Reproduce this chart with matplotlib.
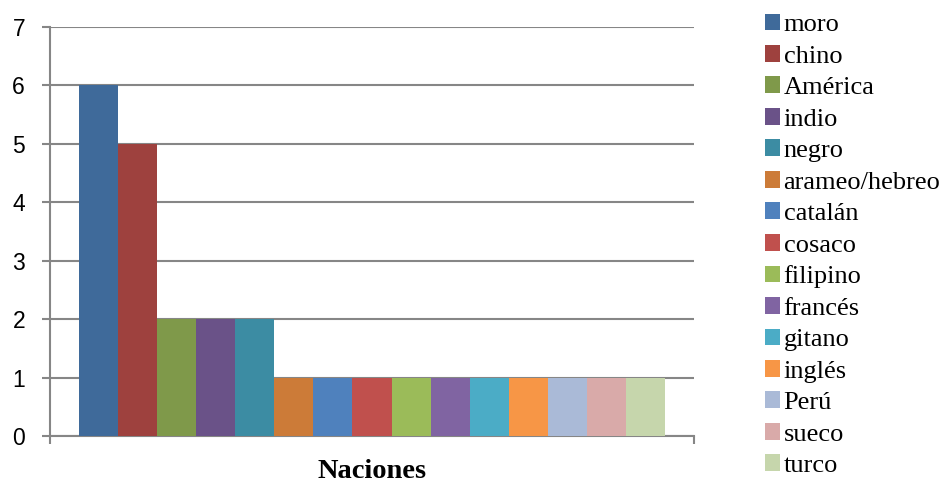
import matplotlib
matplotlib.use("Agg")
import matplotlib.pyplot as plt
import numpy as np

# datos
naciones = ['moro', 'chino', 'América', 'indio', 'negro', 'arameo/hebreo', 'catalán',
            'cosaco', 'filipino', 'francés', 'gitano', 'inglés', 'Perú', 'sueco', 'turco']
valores = [6, 5, 2, 2, 2, 1, 1, 1, 1, 1, 1, 1, 1, 1, 1]
colores = ['#3F6A9A', '#9E413E', '#7F994A', '#6A5288', '#3C8CA3', '#CC7B38', '#4F81BD',
           '#C0504D', '#9BBB59', '#8064A2', '#4BACC6', '#F79646', '#AABAD7', '#D9AAA9', '#C6D6AC']
categoria = 'Naciones'

fig = plt.figure(figsize=(9.43, 4.82), dpi=100)
ax = fig.add_axes([50 / 943, 1 - 436 / 482, 644 / 943, 409 / 482])

ancho_total = 586 / 644
w = ancho_total / len(valores)
for i, (n, v, c) in enumerate(zip(naciones, valores, colores)):
    x = -ancho_total / 2 + w * (i + 0.5)
    ax.bar(x, v, width=w, color=c, label=n, zorder=3)

ax.set_xlim(-0.5, 0.5)
ax.set_ylim(0, 7)
ax.set_yticks(range(0, 8))
ax.yaxis.grid(True, color='#868686', linewidth=1.5, zorder=0)
for s in ['top', 'right']:
    ax.spines[s].set_visible(False)
for s in ['left', 'bottom']:
    ax.spines[s].set_color('#868686')
    ax.spines[s].set_linewidth(1.5)
ax.tick_params(axis='y', length=6, width=1.5, color='#868686', pad=12,
               labelsize=16.5, labelcolor='black')
for lab in ax.get_yticklabels():
    lab.set_fontfamily('Liberation Sans')
ax.set_xticks([])
ax.set_xticks([-0.5, 0.5], minor=True)
ax.tick_params(axis='x', which='minor', length=6, width=1.5, color='#868686')
ax.set_xlabel(categoria, fontfamily='Liberation Serif', fontweight='bold', fontsize=20.5, labelpad=7)

fig.legend(loc='upper left', bbox_to_anchor=(754 / 943, 1 - 3 / 482), frameon=False,
           prop={'family': 'Liberation Serif', 'size': 19}, handlelength=0.6, handleheight=0.6,
           handletextpad=0.12, labelspacing=0.333, borderaxespad=0)

fig.savefig('out.png', dpi=100)
